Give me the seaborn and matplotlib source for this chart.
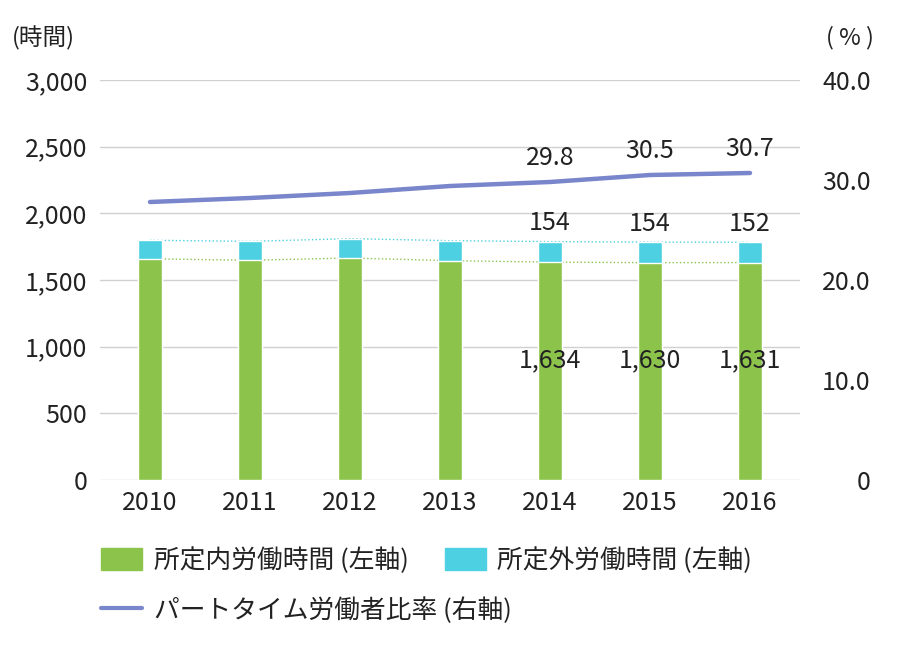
import pandas as pd
import numpy as np
import seaborn as sns
from matplotlib import pyplot as plt
from matplotlib.patches import Patch
from matplotlib.lines import Line2D

years = ['2010', '2011', '2012', '2013', '2014', '2015', '2016']
scheduled = [1659, 1648, 1665, 1645, 1634, 1630, 1631]
overtime = [139, 142, 145, 150, 154, 154, 152]
part_ratio = [27.8, 28.2, 28.7, 29.4, 29.8, 30.5, 30.7]

label_idx = [4, 5, 6]

green = '#8CC34B'
cyan = '#4DD0E1'
purple = '#7986CB'
text_c = '#222222'

sns.set_theme(style='white')
plt.rcParams['font.family'] = ['Noto Sans CJK JP', 'DejaVu Sans']

df = pd.DataFrame({'year': years, 'scheduled': scheduled,
                   'overtime': overtime, 'ratio': part_ratio})
df['total'] = df.scheduled + df.overtime
df['pos'] = np.arange(len(df))

fig = plt.figure(figsize=[9, 6.5], dpi=100)
ax = fig.add_axes([100 / 900, 1 - 480 / 650, 700 / 900, 400 / 650])

# dotted guide lines between bar tops
ax.plot(df.pos, df.total, ls=':', color=cyan, lw=1, zorder=1)
ax.plot(df.pos, df.scheduled, ls=':', color=green, lw=1, zorder=1)

sns.barplot(x='year', y='total', data=df, color=cyan, width=0.24,
            saturation=1, ax=ax, zorder=2)
sns.barplot(x='year', y='scheduled', data=df, color=green, width=0.24,
            saturation=1, ax=ax, zorder=3)

ax.set_xlim(-0.5, 6.5)
ax.set_ylim(0, 3000)
ax.set_yticks(np.arange(0, 3001, 500))
ax.set_yticklabels(['0', '500', '1,000', '1,500', '2,000', '2,500', '3,000'])
ax.yaxis.grid(True, color='#d0d0d0', lw=1)
ax.set_axisbelow(True)
for s in ax.spines.values():
    s.set_visible(False)
ax.set_xlabel('')
ax.set_ylabel('')
ax.tick_params(axis='y', length=0, pad=9, labelsize=18, labelcolor=text_c)
ax.tick_params(axis='x', length=0, pad=7, labelsize=18, labelcolor=text_c)

for i in label_idx:
    ax.text(i, df.total[i] + 40, f'{overtime[i]}', ha='center', va='bottom',
            fontsize=18, color=text_c, zorder=5)
    ax.text(i, 900, f'{scheduled[i]:,}', ha='center', va='center',
            fontsize=18, color=text_c, zorder=5)

ax2 = ax.twinx()
sns.lineplot(x='pos', y='ratio', data=df, color=purple, lw=3.2, ax=ax2,
             solid_capstyle='round')
ax2.set_ylim(0, 40)
ax2.set_yticks(np.arange(0, 41, 10))
ax2.set_yticklabels(['0', '10.0', '20.0', '30.0', '40.0'])
for s in ax2.spines.values():
    s.set_visible(False)
ax2.set_xlabel('')
ax2.set_ylabel('')
ax2.tick_params(axis='y', length=0, pad=51, labelsize=18, labelcolor=text_c)
for t in ax2.get_yticklabels():
    t.set_horizontalalignment('right')

for i in label_idx:
    ax2.text(i, part_ratio[i] + 1.1, f'{part_ratio[i]}', ha='center',
             va='bottom', fontsize=18, color=text_c)

fig.text(12 / 900, 1 - 38 / 650, '(時間)', ha='left', va='center',
         fontsize=17, color=text_c)
fig.text(850 / 900, 1 - 38 / 650, '( % )', ha='center', va='center',
         fontsize=17, color=text_c)

leg_kw = dict(loc='upper left', frameon=False, fontsize=18.5,
              handlelength=1.6, handleheight=0.9, handletextpad=0.45,
              columnspacing=1.4, labelcolor=text_c)
row1 = [Patch(color=green, label='所定内労働時間 (左軸)'),
        Patch(color=cyan, label='所定外労働時間 (左軸)')]
row2 = [Line2D([], [], color=purple, lw=3, label='パートタイム労働者比率 (右軸)')]
fig.legend(handles=row1, ncol=2,
           bbox_to_anchor=(78 / 900, 1 - 524 / 650), **leg_kw)
fig.legend(handles=row2, ncol=1,
           bbox_to_anchor=(78 / 900, 1 - 574 / 650), **leg_kw)

fig.savefig('out.png', dpi=100)
